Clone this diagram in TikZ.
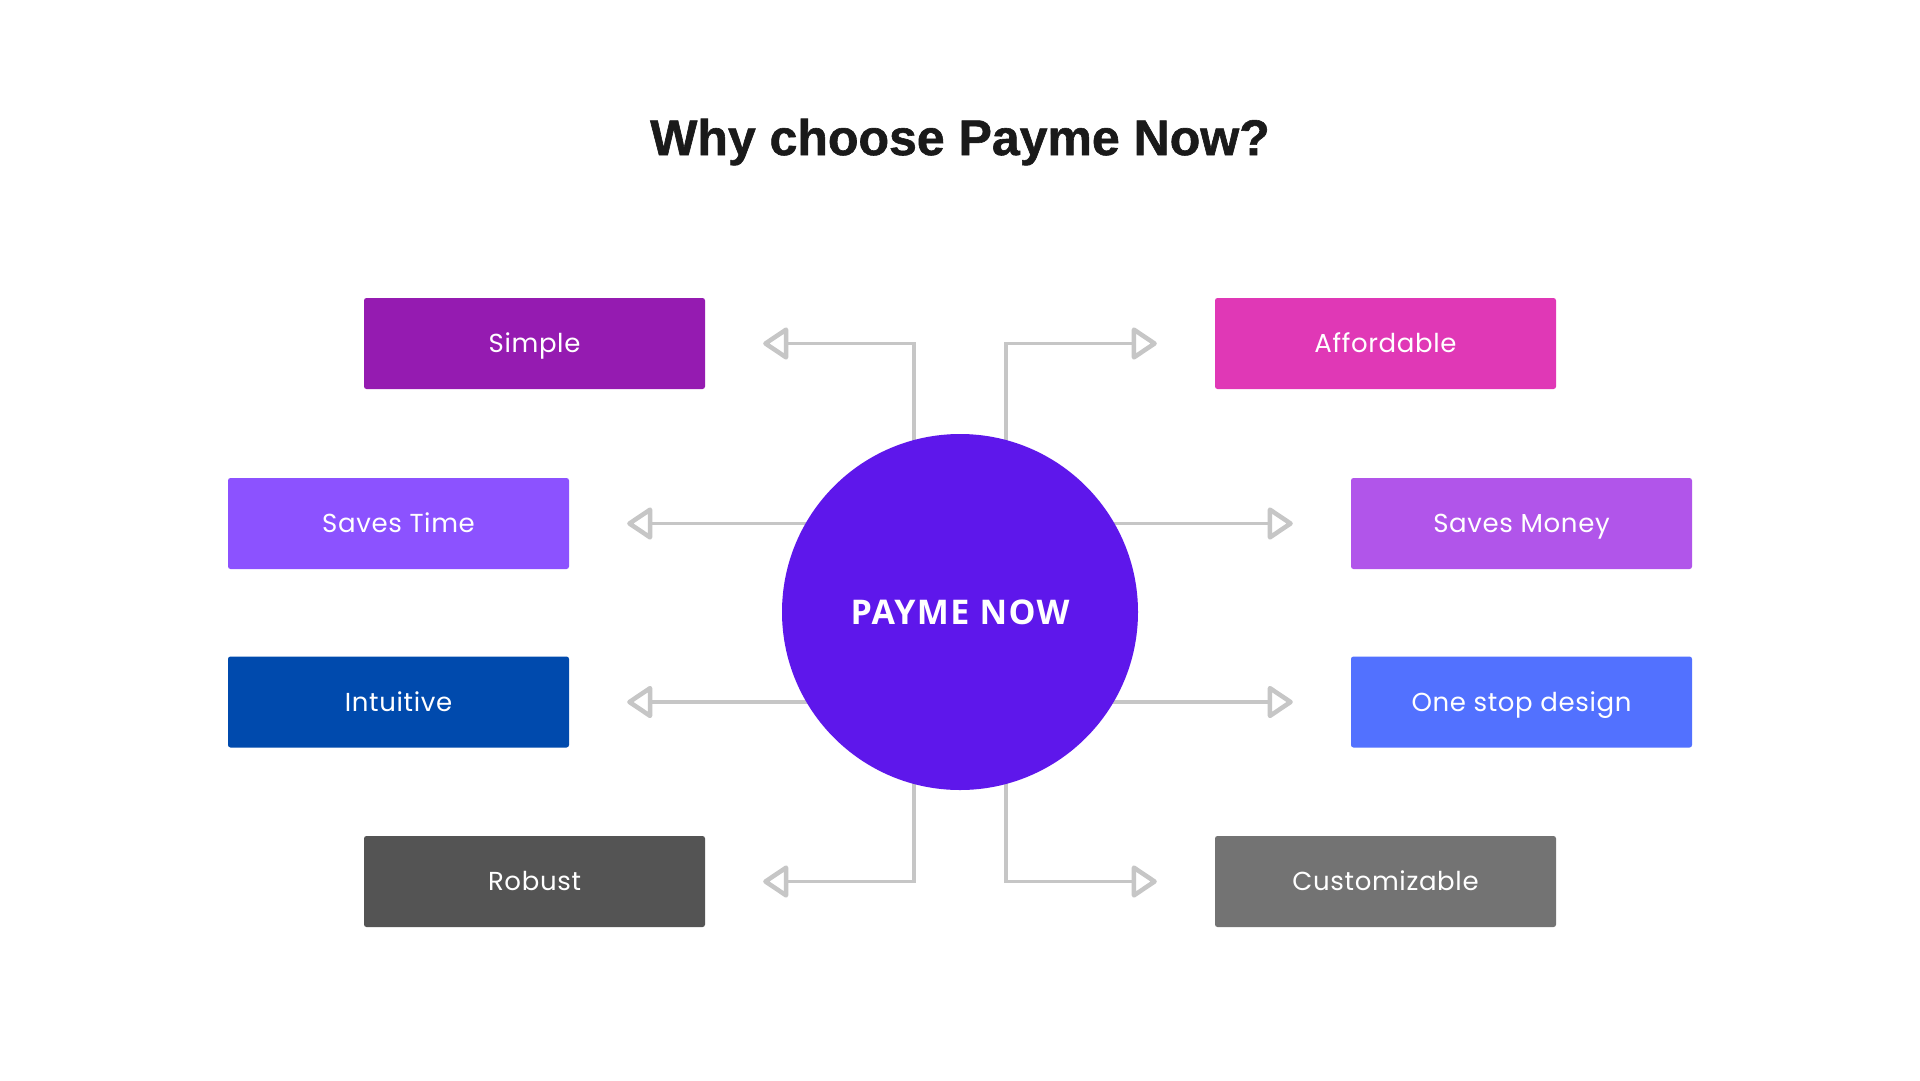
\documentclass[tikz,border=0pt]{standalone}
\usepackage{fontspec}
\setmainfont{Poppins}
\newfontfamily\titlefont{Liberation Sans}[FakeBold=1.2]
\newfontfamily\boxfont{Poppins}[LetterSpace=2.5]
\newfontfamily\hubfont{Open Sans}[LetterSpace=4]
\usetikzlibrary{arrows.meta,backgrounds}
\definecolor{cSimple}{HTML}{951BB1}
\definecolor{cTime}{HTML}{8C52FF}
\definecolor{cIntuit}{HTML}{004AAD}
\definecolor{cRobust}{HTML}{545454}
\definecolor{cAfford}{HTML}{E038B6}
\definecolor{cMoney}{HTML}{B155EA}
\definecolor{cStop}{HTML}{5271FF}
\definecolor{cCustom}{HTML}{737373}
\definecolor{cHub}{HTML}{5E17EB}
\definecolor{cLine}{HTML}{C6C6C6}
\definecolor{cTitle}{HTML}{1A1A1A}
\begin{document}
\begin{tikzpicture}[x=1pt,y=-1pt,
  feat/.style={rectangle, rounded corners=2.5pt, minimum width=341pt, minimum height=91pt, inner sep=0pt, text height=18.5pt, text depth=0pt, text=white, font=\boxfont\fontsize{26}{31}\selectfont},
  hub/.style={circle, fill=cHub, minimum size=356pt, inner sep=0pt, text height=25pt, text depth=0pt, text=white, font=\hubfont\bfseries\fontsize{34}{40}\selectfont},
  conn/.style={draw=cLine, line width=3.5pt, -{Triangle[open,length=27pt,width=35pt,line width=4.5pt,round]}, shorten >=58pt}
]
\useasboundingbox (0,0) rectangle (1920,1080);

\node[text=cTitle, text height=36pt, text depth=0pt, font=\titlefont\bfseries\fontsize{50}{60}\selectfont] (title) at (960,137) {Why choose Payme Now?};

\node[hub] (c) at (960,612) {PAYME NOW};

\node[feat, fill=cSimple] (simple) at (534.5,343.5) {Simple};
\node[feat, fill=cTime] (time) at (398.5,523.5) {Saves Time};
\node[feat, fill=cIntuit] (intuit) at (398.5,702) {Intuitive};
\node[feat, fill=cRobust] (robust) at (534.5,881.5) {Robust};
\node[feat, fill=cAfford] (afford) at (1385.5,343.5) {Affordable};
\node[feat, fill=cMoney] (money) at (1521.5,523.5) {Saves Money};
\node[feat, fill=cStop] (stop) at (1521.5,702) {One stop design};
\node[feat, fill=cCustom] (custom) at (1385.5,881.5) {Customizable};

\begin{pgfonlayer}{background}
\fill[white] (0,0) rectangle (1920,1080);
\draw[conn] ([xshift=-46pt]c.center) |- (simple.east);
\draw[conn] ([xshift=46pt]c.center) |- (afford.west);
\draw[conn] ([xshift=-46pt]c.center) |- (robust.east);
\draw[conn] ([xshift=46pt]c.center) |- (custom.west);
\draw[conn] (c.center |- time.east) -- (time.east);
\draw[conn] (c.center |- intuit.east) -- (intuit.east);
\draw[conn] (c.center |- money.west) -- (money.west);
\draw[conn] (c.center |- stop.west) -- (stop.west);
\end{pgfonlayer}
\end{tikzpicture}
\end{document}
